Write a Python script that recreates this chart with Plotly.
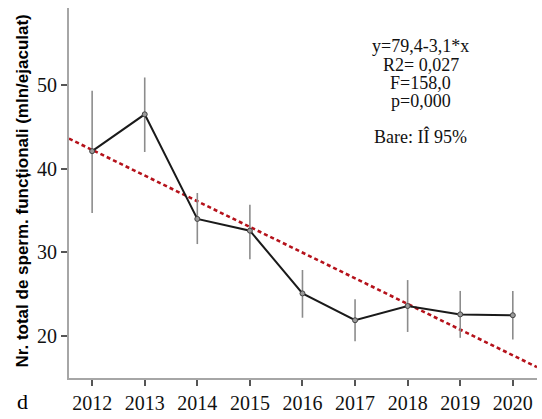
import plotly.graph_objects as go

years = [2012, 2013, 2014, 2015, 2016, 2017, 2018, 2019, 2020]
means = [42.1, 46.5, 34.0, 32.6, 25.1, 21.9, 23.6, 22.6, 22.5]
ci_hi = [49.3, 50.9, 37.1, 35.7, 27.9, 24.4, 26.7, 25.4, 25.4]
ci_lo = [34.7, 42.0, 31.0, 29.2, 22.2, 19.4, 20.5, 19.8, 19.6]

trend_x = [2011.56, 2020.46]
trend_y = [43.6, 16.3]

stats_lines = ["y=79,4-3,1*x", "R2= 0,027", "F=158,0", "p=0,000"]
bars_label = "Bare: IÎ 95%"
y_title = "Nr. total de sperm. funcționali (mln/ejaculat)"
panel_label = "d"

err_plus = [h - m for h, m in zip(ci_hi, means)]
err_minus = [m - l for m, l in zip(means, ci_lo)]

fig = go.Figure()
fig.add_trace(go.Scatter(
    x=trend_x, y=trend_y, mode="lines",
    line=dict(color="#b5121b", width=2.6, dash="4px,3px"),
    hoverinfo="skip", showlegend=False,
))
fig.add_trace(go.Scatter(
    x=years, y=means, mode="lines+markers",
    line=dict(color="#1a1a1a", width=2),
    marker=dict(size=5, color="#9a9a9a", line=dict(color="#444444", width=1)),
    error_y=dict(type="data", symmetric=False, array=err_plus, arrayminus=err_minus,
                 color="#8c8c8c", thickness=1.6, width=0),
    showlegend=False,
))

annotations = []
line_y = [46.7, 65.0, 83.3, 101.7]
H = 373.0
T = 8.0
for txt, yy in zip(stats_lines, line_y):
    annotations.append(dict(
        text=txt, xref="x", yref="paper", x=2018.25, y=1 - (yy - T) / H,
        showarrow=False, xanchor="center", yanchor="middle",
        font=dict(family="Liberation Serif", size=18, color="#111111"),
    ))
annotations.append(dict(
    text=bars_label, xref="x", yref="paper", x=2018.25, y=1 - (138 - T) / H,
    showarrow=False, xanchor="center", yanchor="middle",
    font=dict(family="Liberation Serif", size=18, color="#111111"),
))
annotations.append(dict(
    text="<b>" + y_title + "</b>", xref="paper", yref="paper",
    x=(23 - 69) / 468.0, y=1 - (193 - T) / H, textangle=-90, showarrow=False,
    xanchor="center", yanchor="middle",
    font=dict(family="Liberation Sans", size=17, color="#000000"),
))
annotations.append(dict(
    text=panel_label, xref="paper", yref="paper",
    x=(22 - 69) / 468.0, y=1 - (419 - T) / H, showarrow=False,
    xanchor="center", yanchor="bottom",
    font=dict(family="Liberation Serif", size=22, color="#000000"),
))

fig.update_layout(
    width=542, height=419,
    margin=dict(l=69, r=5, t=8, b=38),
    paper_bgcolor="white", plot_bgcolor="white",
    annotations=annotations,
    xaxis=dict(
        range=[2011.56, 2020.46], tickmode="array", tickvals=years,
        ticktext=[str(y) for y in years],
        showgrid=False, zeroline=False, showline=True, linecolor="#a6a6a6", linewidth=2,
        ticks="outside", ticklen=6, tickwidth=1.5, tickcolor="#555555",
        tickfont=dict(family="Liberation Serif", size=20, color="#111111"),
    ),
    yaxis=dict(
        range=[15.0, 59.2], tickmode="array", tickvals=[20, 30, 40, 50],
        showgrid=False, zeroline=False, showline=True, linecolor="#a6a6a6", linewidth=2,
        ticks="outside", ticklen=6, tickwidth=1.5, tickcolor="#555555",
        tickfont=dict(family="Liberation Serif", size=20, color="#111111"),
    ),
)

fig.write_html("out.html", config={"displayModeBar": False},
               post_script="document.body.style.margin='0';document.body.style.overflow='hidden';")
